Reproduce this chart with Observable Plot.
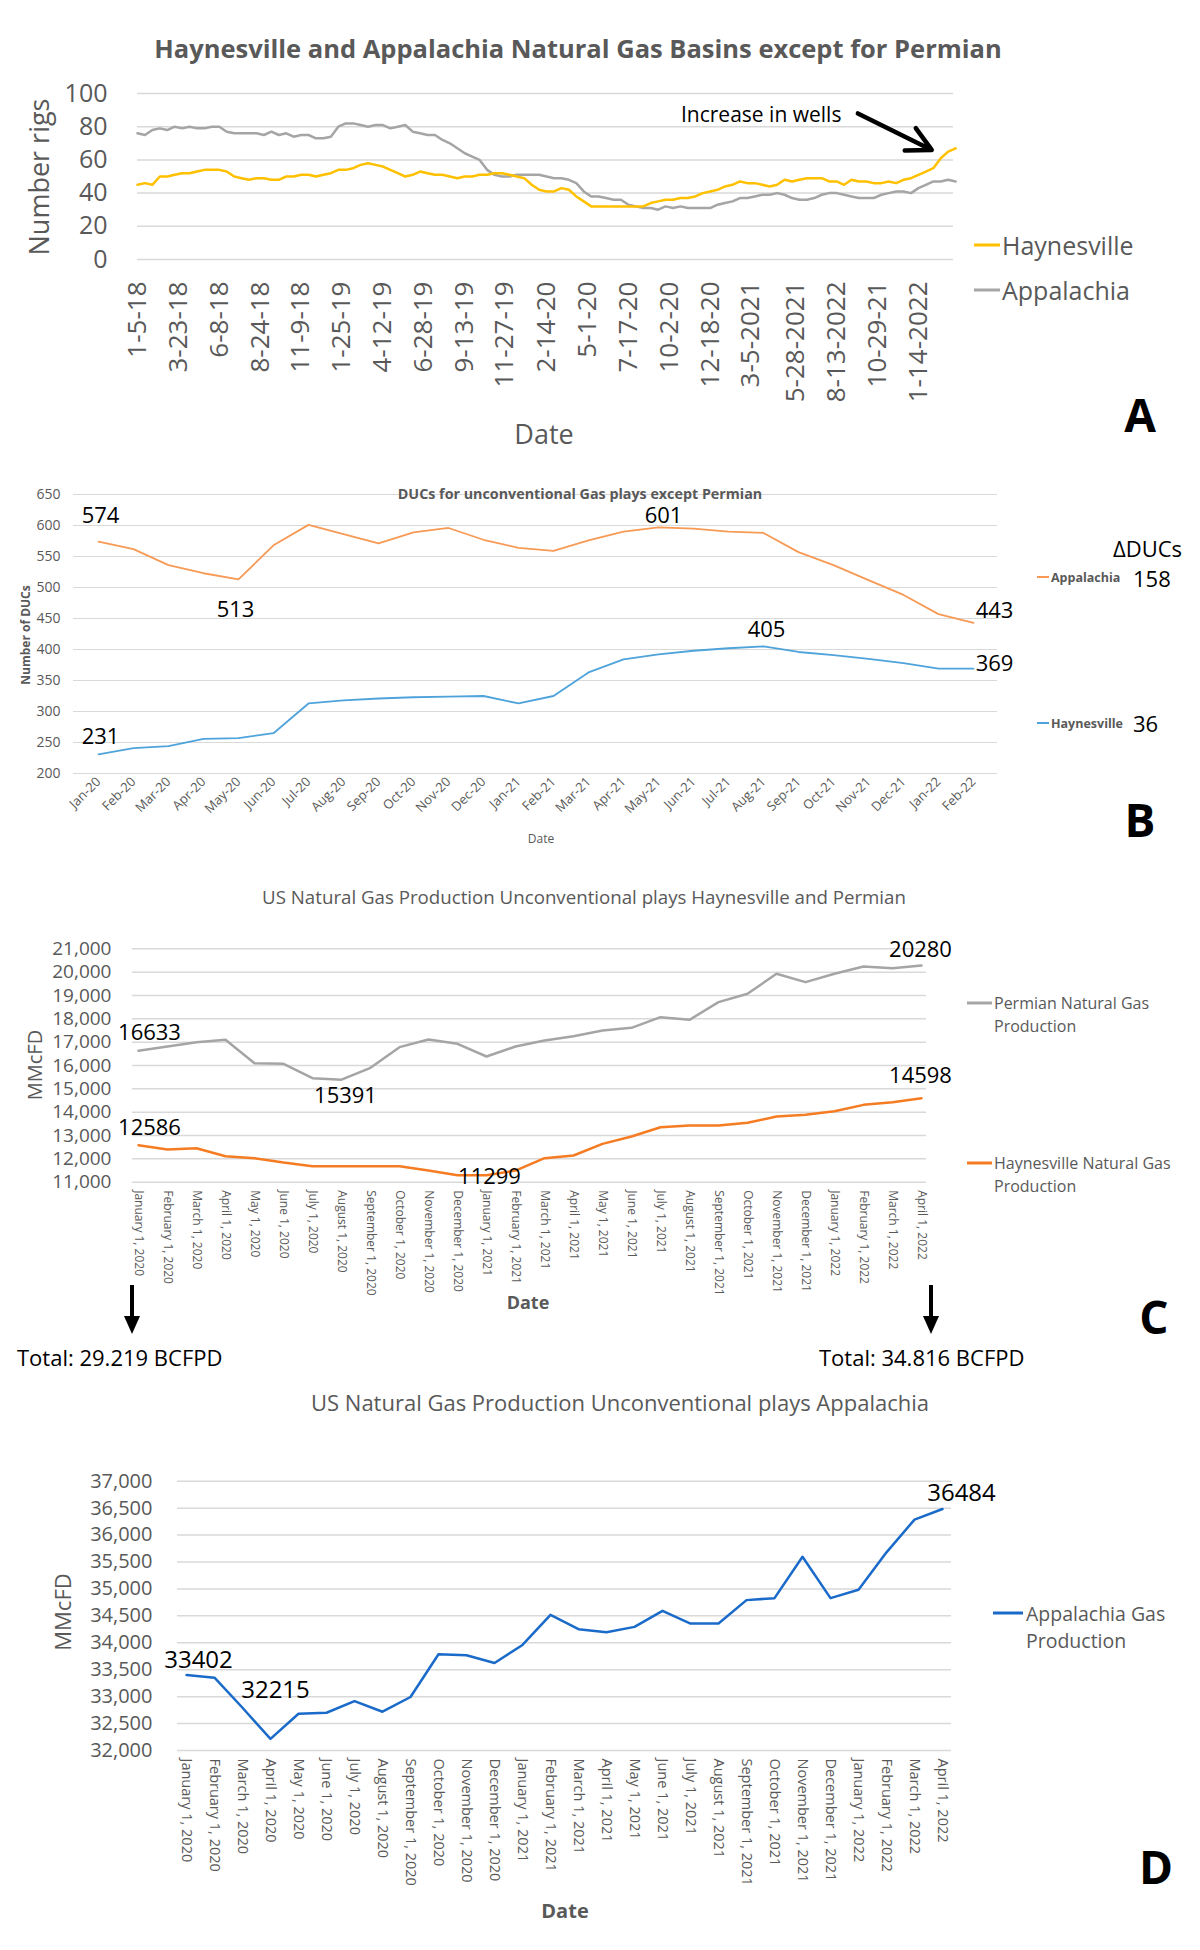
<!DOCTYPE html>
<html><head><meta charset="utf-8">
<script src="https://cdn.jsdelivr.net/npm/d3@7"></script>
<script src="https://cdn.jsdelivr.net/npm/@observablehq/plot@0.6"></script>
<style>
body{margin:0;background:#fff;}
#page{position:relative;width:1200px;height:1950px;background:#fff;overflow:hidden;}
#page > svg{position:absolute;left:0;}
</style></head><body><div id="page"></div>
<script>
// ---------------- DATA ----------------
// Panel A: weekly rig counts, read every 2 weeks starting 2018-01-05
const rigStart = "2018-01-05";
const haynesvilleRigs = [45,46,45,50,50,51,52,52,53,54,
 54,54,53,50,49,48,49,49,48,48,
 50,50,51,51,50,51,52,54,54,55,
 57,58,57,56,54,52,50,51,53,52,
 51,51,50,49,50,50,51,51,52,52,
 51,50,49,45,42,41,41,43,42,38,
 35,32,32,32,32,32,32,32,32,34,
 35,36,36,37,37,38,40,41,42,44,
 45,47,46,46,45,44,45,48,47,48,
 49,49,49,47,47,45,48,47,47,46,
 46,47,46,48,49,51,53,55,61,65,67];
const appalachiaRigs = [76,75,78,79,78,80,79,80,79,79,
 80,80,77,76,76,76,76,75,77,75,
 76,74,75,75,73,73,74,80,82,82,
 81,80,81,81,79,80,81,77,76,75,
 75,72,70,67,64,62,60,54,51,50,
 50,51,51,51,51,50,49,49,48,46,
 41,38,38,37,36,36,33,32,31,31,
 30,32,31,32,31,31,31,31,33,34,
 35,37,37,38,39,39,40,39,37,36,
 36,37,39,40,40,39,38,37,37,37,
 39,40,41,41,40,43,45,47,47,48,47];
const rigTickDates = ["2018-01-05","2018-03-23","2018-06-08","2018-08-24","2018-11-09","2019-01-25","2019-04-12","2019-06-28","2019-09-13","2019-11-27","2020-02-14","2020-05-01","2020-07-17","2020-10-02","2020-12-18","2021-03-05","2021-05-28","2021-08-13","2021-10-29","2022-01-14"];
const rigTickLabels = ["1-5-18","3-23-18","6-8-18","8-24-18","11-9-18","1-25-19","4-12-19","6-28-19","9-13-19","11-27-19","2-14-20","5-1-20","7-17-20","10-2-20","12-18-20","3-5-2021","5-28-2021","8-13-2022","10-29-21","1-14-2022"];
const rigAnnotation = [{date:"2021-03-24", value:87, text:"Increase in wells"}];
const rigArrow = [{x1:"2021-09-22", y1:88, x2:"2022-02-08", y2:66}];

// Panel B: DUCs
const ducMonths = ["Jan-20","Feb-20","Mar-20","Apr-20","May-20","Jun-20","Jul-20","Aug-20","Sep-20","Oct-20","Nov-20","Dec-20","Jan-21","Feb-21","Mar-21","Apr-21","May-21","Jun-21","Jul-21","Aug-21","Sep-21","Oct-21","Nov-21","Dec-21","Jan-22","Feb-22"];
const appalachiaDUCs = [574,562,536,523,513,568,601,586,571,589,596,577,564,559,576,590,597,595,590,588,557,536,512,488,457,443];
const haynesvilleDUCs = [231,241,244,256,257,265,313,318,321,323,324,325,313,325,363,384,392,398,402,405,396,391,385,378,369,369];
const ducAnnotations = [
  {month:"Jan-20", value:574, text:"574"},
  {month:"May-20", value:513, text:"513"},
  {month:"May-21", value:597, text:"601"},
  {month:"Feb-22", value:443, text:"443"},
  {month:"Aug-21", value:405, text:"405"},
  {month:"Feb-22", value:369, text:"369"},
  {month:"Jan-20", value:231, text:"231"}
];
const ducDelta = [{name:"Appalachia", delta:"158"}, {name:"Haynesville", delta:"36"}];

// Panels C & D: production (MMcFD)
const prodMonths = ["January 1, 2020","February 1, 2020","March 1, 2020","April 1, 2020","May 1, 2020","June 1, 2020","July 1, 2020","August 1, 2020","September 1, 2020","October 1, 2020","November 1, 2020","December 1, 2020","January 1, 2021","February 1, 2021","March 1, 2021","April 1, 2021","May 1, 2021","June 1, 2021","July 1, 2021","August 1, 2021","September 1, 2021","October 1, 2021","November 1, 2021","December 1, 2021","January 1, 2022","February 1, 2022","March 1, 2022","April 1, 2022"];
const permianProd = [16633,16814,17000,17100,16100,16071,15457,15391,15900,16786,17114,16929,16386,16814,17071,17257,17500,17614,18071,17957,18714,19071,19929,19571,19929,20243,20171,20280];
const haynesvilleProd = [12586,12400,12457,12114,12029,11843,11686,11686,11686,11686,11500,11300,11299,11500,12029,12143,12643,12957,13357,13429,13429,13543,13814,13886,14043,14314,14429,14598];
const prodAnnotationsC = [
  {month:"January 1, 2020", value:16633, text:"16633"},
  {month:"August 1, 2020", value:15391, text:"15391"},
  {month:"January 1, 2020", value:12586, text:"12586"},
  {month:"January 1, 2021", value:11299, text:"11299"},
  {month:"April 1, 2022", value:20280, text:"20280"},
  {month:"April 1, 2022", value:14598, text:"14598"}
];
const totalsC = ["Total: 29.219 BCFPD", "Total: 34.816 BCFPD"];
const appalachiaProd = [33402,33352,32794,32215,32682,32701,32918,32720,32993,33787,33768,33625,33960,34519,34252,34196,34295,34593,34357,34357,34792,34829,35598,34829,34984,35679,36287,36484];
const prodAnnotationsD = [
  {month:"January 1, 2020", value:33402, text:"33402"},
  {month:"April 1, 2020", value:32215, text:"32215"},
  {month:"April 1, 2022", value:36484, text:"36484"}
];

// ---------------- DRAWING ----------------
const FONT = "'Open Sans', 'DejaVu Sans', sans-serif";
const GREY = "#595959";
const GRID = "#D9D9D9";
const page = document.getElementById("page");
function place(svg, top) { svg.style.top = top + "px"; svg.style.left = "0px"; page.appendChild(svg); }
const baseStyle = {fontFamily: FONT, background: "none", color: GREY, overflow: "visible"};

// Panel A
const rigRows = haynesvilleRigs.map((h, i) => ({date: d3.utcDay.offset(new Date(rigStart), 14 * i), h, a: appalachiaRigs[i]}));
const rigLabelMap = new Map(rigTickDates.map((d, i) => [+new Date(d), rigTickLabels[i]]));
const plotA = Plot.plot({
  width: 1200, height: 450, marginLeft: 137, marginRight: 247, marginTop: 93, marginBottom: 191,
  style: baseStyle,
  x: {type: "utc", domain: [new Date("2018-01-05"), new Date("2022-03-21")]},
  y: {domain: [0, 100]},
  marks: [
    Plot.gridY(d3.range(0, 101, 20), {stroke: GRID, strokeOpacity: 1, strokeWidth: 1.5}),
    Plot.axisY(d3.range(0, 101, 20), {tickSize: 0, tickPadding: 30, fontSize: 25, fill: GREY, label: null}),
    Plot.axisX(rigTickDates.map(d => new Date(d)), {tickSize: 0, tickPadding: 22, tickRotate: -90, fontSize: 26, fill: GREY, label: null, tickFormat: d => rigLabelMap.get(+d)}),
    Plot.line(rigRows, {x: "date", y: "a", stroke: "#A5A5A5", strokeWidth: 2.5}),
    Plot.line(rigRows, {x: "date", y: "h", stroke: "#FFC000", strokeWidth: 2.5}),
    Plot.text(rigAnnotation, {x: d => new Date(d.date), y: "value", text: "text", fontSize: 21, fill: "black"}),
    Plot.arrow(rigArrow, {x1: d => new Date(d.x1), y1: "y1", x2: d => new Date(d.x2), y2: "y2", stroke: "black", strokeWidth: 4.5, headLength: 9, headAngle: 55})
  ]
});
place(plotA, 0);

// Panel B
const ducRows = ducMonths.flatMap((m, i) => [
  {month: m, value: appalachiaDUCs[i], series: "Appalachia"},
  {month: m, value: haynesvilleDUCs[i], series: "Haynesville"}]);
const ducColors = {Appalachia: "#F79A55", Haynesville: "#4FA3DB"};
const ducOffsets = [[2,-26],[-3,31],[5,-11],[21,-12],[3,-16],[21,-5],[2,-17]];
const plotB = Plot.plot({
  width: 1200, height: 420, marginLeft: 73, marginRight: 203, marginTop: 44, marginBottom: 97,
  style: baseStyle,
  x: {type: "point", domain: ducMonths, padding: 0.5},
  y: {domain: [200, 650]},
  marks: [
    Plot.gridY(d3.range(200, 651, 50), {stroke: GRID, strokeOpacity: 1, strokeWidth: 1.2}),
    Plot.axisY(d3.range(200, 651, 50), {tickSize: 0, tickPadding: 13, fontSize: 14, fill: GREY, label: null}),
    Plot.axisX({tickSize: 0, tickPadding: 6, tickRotate: -45, fontSize: 13, fill: GREY, label: null}),
    Plot.line(ducRows.filter(d => d.series === "Appalachia"), {x: "month", y: "value", stroke: ducColors.Appalachia, strokeWidth: 1.8}),
    Plot.line(ducRows.filter(d => d.series === "Haynesville"), {x: "month", y: "value", stroke: ducColors.Haynesville, strokeWidth: 1.8}),
    ...ducAnnotations.map((a, i) => Plot.text([a], {x: "month", y: "value", text: "text", fontSize: 22, fill: "black", dx: ducOffsets[i][0], dy: ducOffsets[i][1]}))
  ]
});
place(plotB, 450);

// Panel C
const prodRowsC = prodMonths.map((m, i) => ({month: m, permian: permianProd[i], haynes: haynesvilleProd[i]}));
const offC = [[11,-18],[4,16],[11,-17],[3,2],[-1,-16],[-1,-22]];
const plotC = Plot.plot({
  width: 1200, height: 420, marginLeft: 132, marginRight: 274, marginTop: 48.3, marginBottom: 138.3,
  style: baseStyle,
  x: {type: "point", domain: prodMonths, padding: 0},
  y: {domain: [11000, 21000]},
  marks: [
    Plot.gridY(d3.range(11000, 21001, 1000), {stroke: GRID, strokeOpacity: 1, strokeWidth: 1.5}),
    Plot.axisY(d3.range(11000, 21001, 1000), {tickSize: 0, tickPadding: 21, fontSize: 19, fill: GREY, label: null, tickFormat: d3.format(",")}),
    Plot.axisX({tickSize: 0, tickPadding: 8, tickRotate: 90, fontSize: 12, fill: GREY, label: null}),
    Plot.line(prodRowsC, {x: "month", y: "permian", stroke: "#A5A5A5", strokeWidth: 2.5}),
    Plot.line(prodRowsC, {x: "month", y: "haynes", stroke: "#F57C22", strokeWidth: 2.5}),
    ...prodAnnotationsC.map((a, i) => Plot.text([a], {x: "month", y: "value", text: "text", fontSize: 22, fill: "black", dx: offC[i][0], dy: offC[i][1]}))
  ]
});
place(plotC, 900);

// Panel D
const prodRowsD = prodMonths.map((m, i) => ({month: m, value: appalachiaProd[i]}));
const offD = [[12,-15],[5,-49],[19,-16]];
const plotD = Plot.plot({
  width: 1200, height: 470, marginLeft: 177, marginRight: 249, marginTop: 60.7, marginBottom: 140,
  style: baseStyle,
  x: {type: "point", domain: prodMonths, padding: 0},
  y: {domain: [32000, 37000]},
  marks: [
    Plot.gridY(d3.range(32000, 37001, 500), {stroke: GRID, strokeOpacity: 1, strokeWidth: 1.5}),
    Plot.axisY(d3.range(32000, 37001, 500), {tickSize: 0, tickPadding: 25, fontSize: 20, fill: GREY, label: null, tickFormat: d3.format(",")}),
    Plot.axisX({tickSize: 0, tickPadding: 8, tickRotate: 90, fontSize: 14.5, fill: GREY, label: null}),
    Plot.line(prodRowsD, {x: "month", y: "value", stroke: "#1A6BC9", strokeWidth: 2.5}),
    ...prodAnnotationsD.map((a, i) => Plot.text([a], {x: "month", y: "value", text: "text", fontSize: 24, fill: "black", dx: offD[i][0], dy: offD[i][1]}))
  ]
});
place(plotD, 1420);

// Overlay: titles, legends, axis titles, panel letters
const overlay = d3.select(page).append("svg")
  .attr("width", 1200).attr("height", 1950)
  .style("position", "absolute").style("top", "0px").style("left", "0px")
  .style("font-family", FONT).style("pointer-events", "none");
function txt(x, y, s, {size = 16, weight = "normal", fill = GREY, anchor = "start", rotate = 0} = {}) {
  overlay.append("text").attr("transform", `translate(${x},${y}) rotate(${rotate})`)
    .attr("text-anchor", anchor).attr("dominant-baseline", "central")
    .attr("font-size", size).attr("font-weight", weight).attr("fill", fill).text(s);
}
function legendLine(x1, x2, y, color, w = 3) {
  overlay.append("line").attr("x1", x1).attr("x2", x2).attr("y1", y).attr("y2", y).attr("stroke", color).attr("stroke-width", w);
}
function downArrow(x, y1, y2) {
  overlay.append("line").attr("x1", x).attr("x2", x).attr("y1", y1).attr("y2", y2 - 16).attr("stroke", "black").attr("stroke-width", 4);
  overlay.append("path").attr("d", `M${x - 8},${y2 - 18}L${x + 8},${y2 - 18}L${x},${y2}Z`).attr("fill", "black");
}

// A
txt(578, 48, "Haynesville and Appalachia Natural Gas Basins except for Permian", {size: 25.5, weight: "bold", anchor: "middle"});
txt(38, 177, "Number rigs", {size: 27, anchor: "middle", rotate: -90});
txt(544, 433, "Date", {size: 27, anchor: "middle"});
legendLine(974, 1000, 245, "#FFC000");
txt(1002, 245, "Haynesville", {size: 25});
legendLine(974, 1000, 290, "#A5A5A5");
txt(1002, 290, "Appalachia", {size: 25});
txt(1140, 414, "A", {size: 46, weight: "bold", fill: "black", anchor: "middle"});

// B
txt(580, 493, "DUCs for unconventional Gas plays except Permian", {size: 14.3, weight: "bold", anchor: "middle"});
txt(25, 635, "Number of DUCs", {size: 12, weight: "bold", anchor: "middle", rotate: -90});
txt(541, 838, "Date", {size: 12, anchor: "middle"});
txt(1113, 548, "\u0394DUCs", {size: 22, fill: "black"});
legendLine(1037, 1049, 577, ducColors.Appalachia, 2);
txt(1051, 577, ducDelta[0].name, {size: 12.5, weight: "bold"});
txt(1133, 578, ducDelta[0].delta, {size: 22, fill: "black"});
legendLine(1037, 1049, 723, ducColors.Haynesville, 2);
txt(1051, 723, ducDelta[1].name, {size: 12.5, weight: "bold"});
txt(1133, 723, ducDelta[1].delta, {size: 22, fill: "black"});
txt(1140, 819, "B", {size: 46, weight: "bold", fill: "black", anchor: "middle"});

// C
txt(584, 896, "US Natural Gas Production Unconventional plays Haynesville and Permian", {size: 18.7, anchor: "middle"});
txt(34, 1065, "MMcFD", {size: 20, anchor: "middle", rotate: -90});
txt(528, 1302, "Date", {size: 18, weight: "bold", anchor: "middle"});
legendLine(967, 992, 1003, "#A5A5A5");
txt(994, 1003, "Permian Natural Gas", {size: 16});
txt(994, 1026, "Production", {size: 16});
legendLine(967, 992, 1163, "#F57C22");
txt(994, 1163, "Haynesville Natural Gas", {size: 16});
txt(994, 1186, "Production", {size: 16});
downArrow(132, 1285, 1334);
downArrow(931, 1285, 1334);
txt(17, 1357, totalsC[0], {size: 22, fill: "black"});
txt(819, 1357, totalsC[1], {size: 22, fill: "black"});
txt(1154, 1316, "C", {size: 46, weight: "bold", fill: "black", anchor: "middle"});

// D
txt(620, 1402, "US Natural Gas Production Unconventional plays Appalachia", {size: 22, anchor: "middle"});
txt(62, 1612, "MMcFD", {size: 22, anchor: "middle", rotate: -90});
txt(565, 1910, "Date", {size: 20, weight: "bold", anchor: "middle"});
legendLine(993, 1023, 1613, "#1A6BC9");
txt(1026, 1613, "Appalachia Gas", {size: 19.5});
txt(1026, 1640, "Production", {size: 19.5});
txt(1156, 1866, "D", {size: 46, weight: "bold", fill: "black", anchor: "middle"});
</script></body></html>
